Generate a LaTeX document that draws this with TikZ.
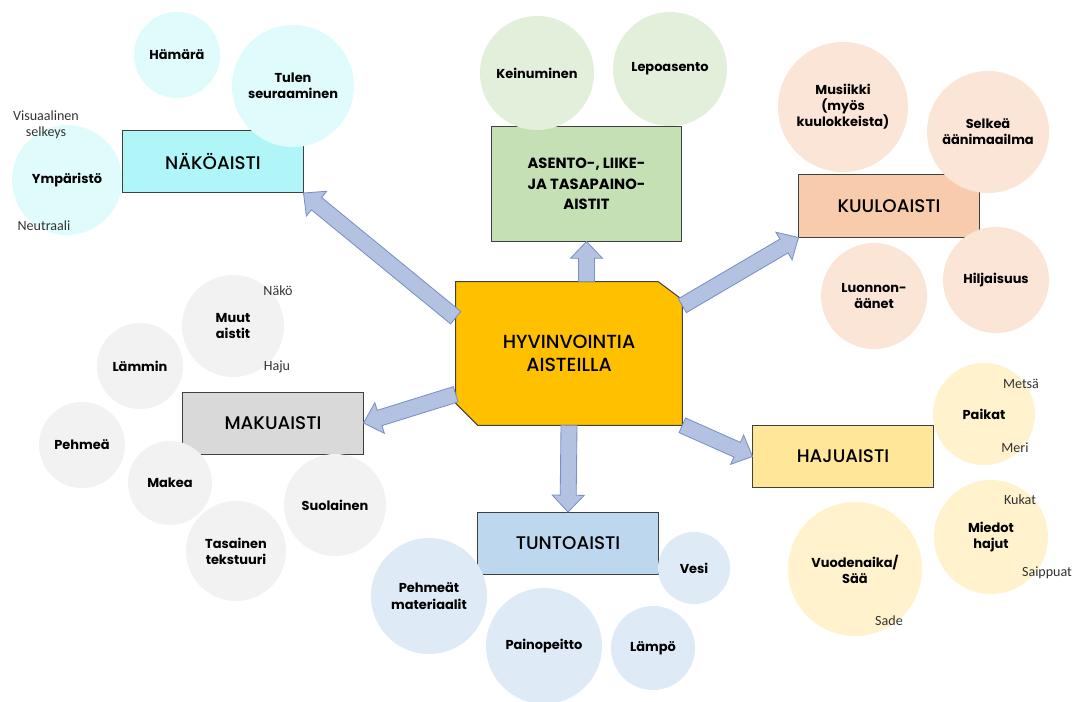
\documentclass[tikz,border=0pt]{standalone}
\usepackage{fontspec}
\setmainfont{Poppins}
\newfontfamily\notefont{Carlito}
\newfontfamily\boxfont{Poppins Medium}
\usetikzlibrary{calc}

\definecolor{boxline}{HTML}{404040}
\definecolor{notegray}{HTML}{333333}
\definecolor{arrowfill}{HTML}{B4C2E2}
\definecolor{arrowline}{HTML}{7890C8}
\definecolor{hubfill}{HTML}{FFC000}
\definecolor{nakobox}{HTML}{B0F6F9}
\definecolor{nakobub}{HTML}{DFFBFC}
\definecolor{asentobox}{HTML}{C5E0B4}
\definecolor{asentobub}{HTML}{E2EFDA}
\definecolor{kuulobox}{HTML}{F8CBAD}
\definecolor{kuulobub}{HTML}{FBE5D6}
\definecolor{hajubox}{HTML}{FFE699}
\definecolor{hajubub}{HTML}{FFF2CC}
\definecolor{tuntobox}{HTML}{BDD7EE}
\definecolor{tuntobub}{HTML}{DEEBF7}
\definecolor{makubox}{HTML}{D9D9D9}
\definecolor{makubub}{HTML}{F2F2F2}

\begin{document}
\begin{tikzpicture}[x=0.025cm, y=-0.025cm]
	\tikzset{
		aisti/.style={draw=boxline, line width=0.7pt, minimum width=4.5cm, minimum height=1.55cm, align=center, font=\boxfont\fontsize{13}{16}\selectfont},
		kupla/.style={circle, minimum size=#1*0.05cm, inner sep=0pt, align=center, font=\bfseries\fontsize{9.2}{11.5}\selectfont},
		huomio/.style={text=notegray, align=center, font=\notefont\fontsize{10}{11.5}\selectfont},
		nuoli/.style={fill=arrowfill, draw=arrowline, line width=0.6pt, line join=miter,
			to path={($(\tikztostart)!0.2cm!90:(\tikztotarget)$)
				-- ($(\tikztotarget)!0.4652cm!-25.46:(\tikztostart)$)
				-- ($(\tikztotarget)!0.58cm!-43.6:(\tikztostart)$)
				-- (\tikztotarget)
				-- ($(\tikztotarget)!0.58cm!43.6:(\tikztostart)$)
				-- ($(\tikztotarget)!0.4652cm!25.46:(\tikztostart)$)
				-- ($(\tikztostart)!0.2cm!-90:(\tikztotarget)$) -- cycle}}
	}
	\useasboundingbox (0,0) rectangle (1084,702);

	% aistilaatikot
	\node[aisti, fill=nakobox] (nako) at (213,161.5) {NÄKÖAISTI};
	\node[aisti, fill=asentobox, minimum width=4.725cm, minimum height=2.85cm, font=\bfseries\fontsize{10.5}{14.5}\selectfont] (asento) at (586.5,184) {ASENTO-, LIIKE-\\JA TASAPAINO-\\AISTIT};
	\node[aisti, fill=kuulobox] (kuulo) at (889,206) {KUULOAISTI};
	\node[aisti, fill=hajubox] (haju) at (843,456.5) {HAJUAISTI};
	\node[aisti, fill=tuntobox] (tunto) at (568,543.5) {TUNTOAISTI};
	\node[aisti, fill=makubox] (maku) at (273,423) {MAKUAISTI};

	% keskus
	\node[minimum width=5.65cm, minimum height=3.575cm] (hub) at (569,353.5) {};
	\draw[boxline, line width=0.7pt, fill=hubfill] (hub.north west) -- ([xshift=-0.6cm]hub.north east) -- ([yshift=-0.45cm]hub.north east)
		-- (hub.south east) -- ([xshift=0.55cm]hub.south west) -- ([yshift=0.55cm]hub.south west) -- cycle;
	\node[align=center, font=\boxfont\fontsize{13.5}{16.5}\selectfont] (hubtext) at (hub) {HYVINVOINTIA\\AISTEILLA};

	% nuolet
	\coordinate (up) at (hub.north -| asento.south);
	\coordinate (nw) at ($(hub.north west)+(0,36)$);
	\coordinate (ne) at ($(hub.north east)+(0,24)$);
	\coordinate (sw) at ($(hub.south west)+(0,-31)$);
	\draw[nuoli] (up) to (asento.south);
	\draw[nuoli] (nw) to (nako.south east);
	\draw[nuoli] (ne) to (kuulo.south west);
	\draw[nuoli] (sw) to (maku.east);
	\draw[nuoli] (hub.south) to (tunto.north);
	\draw[nuoli] (hub.south east) to (haju.west);

	% näkö
	\node[kupla=43, fill=nakobub] (hamara) at (177,55) {Hämärä};
	\node[kupla=61, fill=nakobub] (tulen) at (293,86) {Tulen\\seuraaminen};
	\node[kupla=55, fill=nakobub] (ymparisto) at (67,180) {Ympäristö};
	\node[huomio] (selkeys) at (46,125) {Visuaalinen\\selkeys};
	\node[huomio] (neutraali) at (44,226) {Neutraali};

	% asento
	\node[kupla=57, fill=asentobub] (keinu) at (537,73) {Keinuminen};
	\node[kupla=57, fill=asentobub] (lepo) at (670,69) {Lepoasento};

	% kuulo
	\node[kupla=65, fill=kuulobub] (musiikki) at (843,107) {Musiikki\\(myös\\kuulokkeista)};
	\node[kupla=61, fill=kuulobub] (selkea) at (988,132) {Selkeä\\äänimaailma};
	\node[kupla=53, fill=kuulobub] (hiljaisuus) at (996,280) {Hiljaisuus};
	\node[kupla=53, fill=kuulobub] (luonto) at (874,296) {Luonnon-\\äänet};

	% haju
	\node[kupla=51, fill=hajubub] (paikat) at (984,414) {Paikat};
	\node[kupla=57, fill=hajubub] (miedot) at (991,537) {Miedot\\hajut};
	\node[kupla=67, fill=hajubub] (vuodenaika) at (855,569) {Vuodenaika/\\Sää};
	\node[huomio] (metsa) at (1021,384) {Metsä};
	\node[huomio] (meri) at (1015,448) {Meri};
	\node[huomio] (kukat) at (1020,500) {Kukat};
	\node[huomio] (saippuat) at (1047,573) {Saippuat};
	\node[huomio] (sade) at (889,621) {Sade};

	% tunto
	\node[kupla=58, fill=tuntobub] (pehmeat) at (429,596) {Pehmeät\\materiaalit};
	\node[kupla=58, fill=tuntobub] (paino) at (544,646) {Painopeitto};
	\node[kupla=42, fill=tuntobub] (lampo) at (653,648) {Lämpö};
	\node[kupla=36, fill=tuntobub] (vesi) at (694,568) {Vesi};

	% maku
	\node[kupla=51, fill=makubub] (muut) at (233,326) {Muut\\aistit};
	\node[kupla=43, fill=makubub] (lammin) at (140,366) {Lämmin};
	\node[kupla=43, fill=makubub] (pehmea) at (82,445) {Pehmeä};
	\node[kupla=42, fill=makubub] (makea) at (170,483) {Makea};
	\node[kupla=50, fill=makubub] (tasainen) at (236,551) {Tasainen\\tekstuuri};
	\node[kupla=51, fill=makubub] (suolainen) at (335,505) {Suolainen};
	\node[huomio] (nako2) at (278,291) {Näkö};
	\node[huomio] (haju2) at (277,367) {Haju};
\end{tikzpicture}
\end{document}
